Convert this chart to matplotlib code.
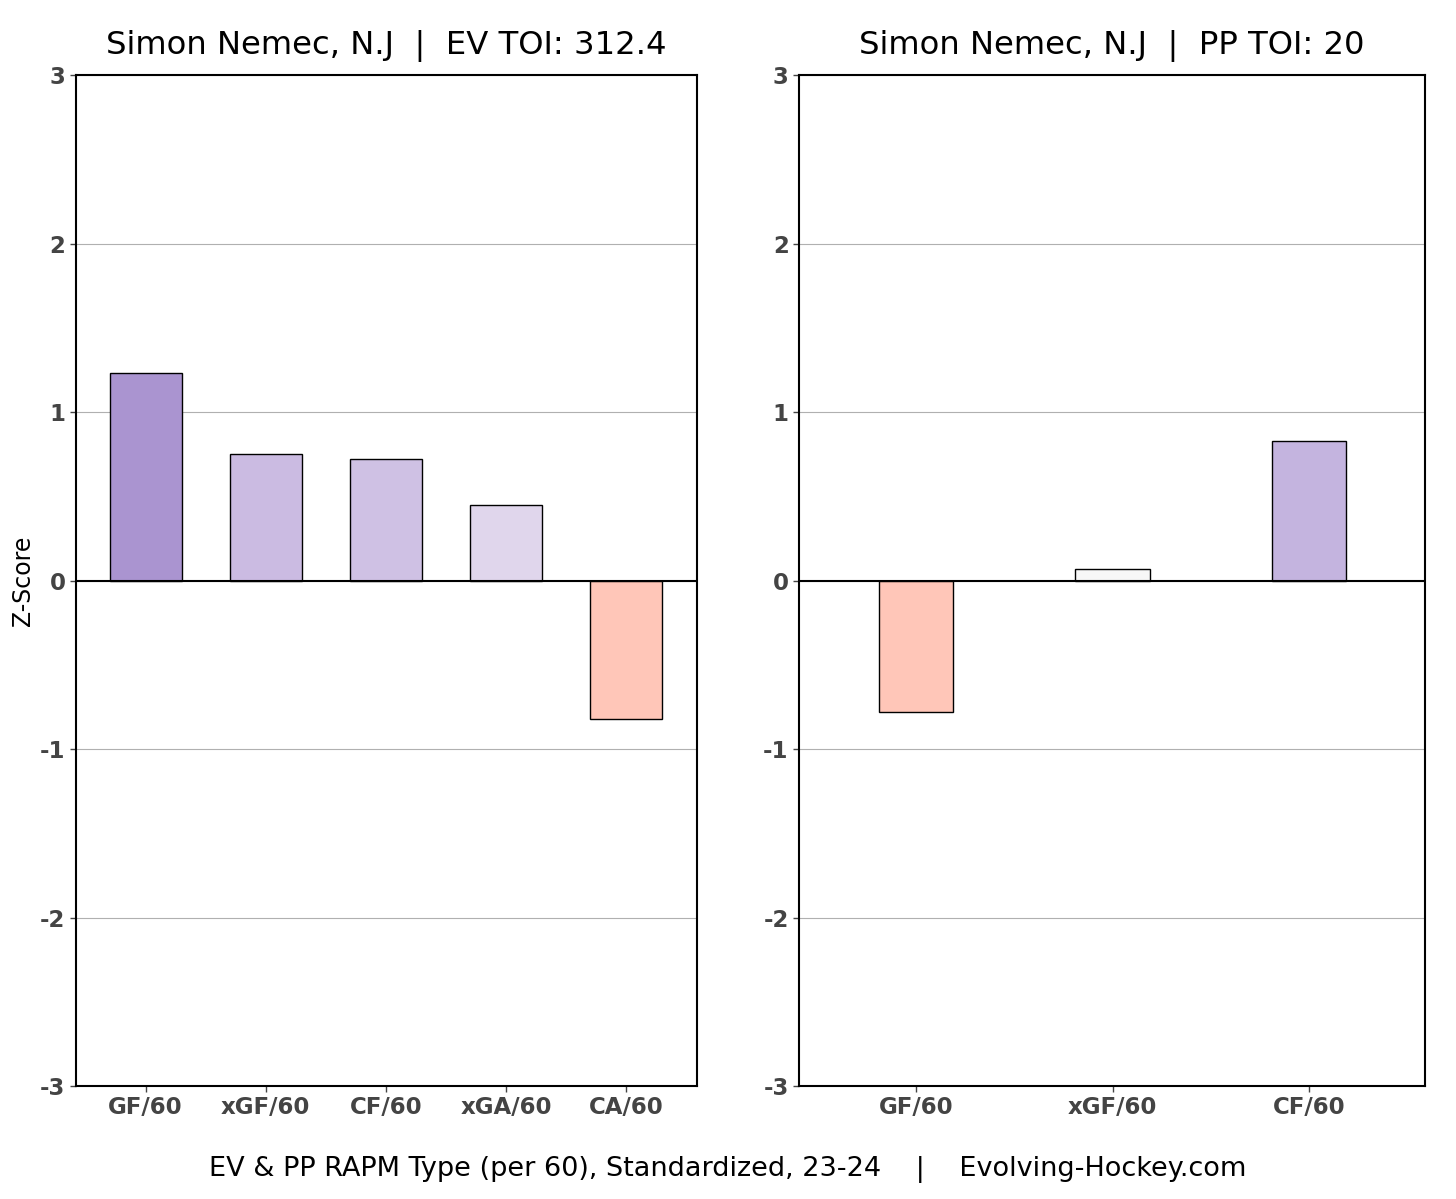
import matplotlib.pyplot as plt

# EV RAPM (per 60), standardized
ev_labels = ['GF/60', 'xGF/60', 'CF/60', 'xGA/60', 'CA/60']
ev_values = [1.23, 0.75, 0.72, 0.45, -0.82]
ev_colors = ['#aa94d0', '#cbbbe2', '#cfc1e4', '#e0d6ec', '#ffc6b8']

# PP RAPM (per 60), standardized
pp_labels = ['GF/60', 'xGF/60', 'CF/60']
pp_values = [-0.78, 0.07, 0.83]
pp_colors = ['#ffc6b8', '#f7f7f7', '#c4b4df']

yticks = [-3, -2, -1, 0, 1, 2, 3]

fig = plt.figure(figsize=(14.56, 11.99), dpi=100)
ax1 = fig.add_axes([0.0522, 0.0942, 0.4265, 0.8432])
ax2 = fig.add_axes([0.5488, 0.0942, 0.4299, 0.8432])


def draw(ax, labels, values, colors, width, xlim, title):
    x = list(range(len(labels)))
    ax.bar(x, values, width=width, color=colors, edgecolor='black', linewidth=1.0, zorder=3)
    ax.axhline(0, color='black', linewidth=1.5, zorder=4)
    ax.set_ylim(-3, 3)
    ax.set_xlim(*xlim)
    ax.set_yticks(yticks)
    ax.set_yticklabels([str(t) for t in yticks])
    ax.set_xticks(x)
    ax.set_xticklabels(labels)
    ax.grid(axis='y', color='#b0b0b0', linewidth=0.8, zorder=0)
    for lab in ax.get_xticklabels() + ax.get_yticklabels():
        lab.set_fontweight('bold')
        lab.set_color('#444444')
        lab.set_fontsize(16.5)
    ax.tick_params(axis='both', colors='#444444', length=4, width=1)
    for s in ax.spines.values():
        s.set_linewidth(1.5)
        s.set_color('black')
    ax.set_title(title, fontsize=23.2, pad=15)


draw(ax1, ev_labels, ev_values, ev_colors, 0.6, (-0.58, 4.59),
     'Simon Nemec, N.J  |  EV TOI: 312.4')
draw(ax2, pp_labels, pp_values, pp_colors, 0.38, (-0.595, 2.59),
     'Simon Nemec, N.J  |  PP TOI: 20')

ax1.set_ylabel('Z-Score', fontsize=17, labelpad=4)

fig.text(0.5, 0.013, 'EV & PP RAPM Type (per 60), Standardized, 23-24    |    Evolving-Hockey.com',
         ha='center', va='bottom', fontsize=19.5)

fig.savefig('out.png', dpi=100)
